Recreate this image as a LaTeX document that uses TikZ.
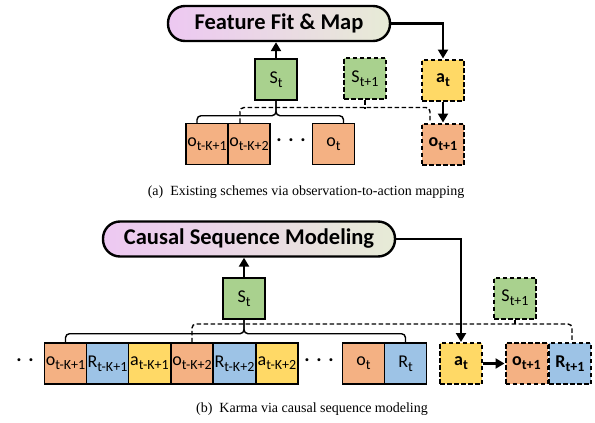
\documentclass[tikz,border=0pt]{standalone}
\usepackage{fontspec}
\setmainfont{Carlito}
\newfontfamily\capfont{Liberation Serif}
\usetikzlibrary{arrows.meta,calc}
\definecolor{cgreen}{HTML}{A9D18E}
\definecolor{corange}{HTML}{F4B183}
\definecolor{cblue}{HTML}{9DC3E6}
\definecolor{cyellow}{HTML}{FFD966}
\definecolor{pillL}{HTML}{EDC8F2}
\definecolor{pillR}{HTML}{E7EBD6}
\newcommand{\lb}[2]{{\fontsize{18}{18}\selectfont #1\raisebox{-4pt}{\fontsize{14}{14}\selectfont #2}}}
\newcommand{\blb}[2]{{\bfseries\fontsize{18}{18}\selectfont #1\raisebox{-4pt}{\fontsize{14}{14}\selectfont #2}}}
\begin{document}
\begin{tikzpicture}[x=1pt,y=-1pt,
  cell/.style={draw=black,line width=1.4pt,minimum width=42pt,minimum height=41pt,inner sep=0pt,anchor=center},
  dcell/.style={cell,line width=2pt,dash pattern=on 4.5pt off 2.5pt},
  pill/.style={draw=black,line width=2.4pt,rounded corners=17pt,minimum height=35pt,inner sep=0pt,left color=pillL,right color=pillR,font=\bfseries\fontsize{22.5}{22.5}\selectfont},
  arr/.style={line width=2.4pt,-{Triangle[length=9pt,width=10pt]}},
  brace/.style={line width=1.4pt,rounded corners=4pt},
  dbrace/.style={brace,dash pattern=on 4.5pt off 2.5pt},
  dots/.style={font=\fontsize{20}{20}\selectfont\bfseries},
  captext/.style={font=\capfont\fontsize{14}{14}\selectfont}]
\useasboundingbox (0,0) rectangle (595,423);
% ---------- panel (a)
\node[pill,minimum width=222pt] (pillA) at (279,23.5) {Feature Fit \& Map};
\node[cell,fill=cgreen] (sA) at (276,79.5) {\lb{S}{t}};
\node[dcell,fill=cgreen] (s1A) at (365,78.5) {\lb{S}{t+1}};
\node[dcell,fill=cyellow] (aA) at (443,80) {\blb{a}{t}};
\node[dcell,fill=corange] (onA) at (443,144) {\blb{o}{t+1}};
\node[cell,fill=corange] (o1A) at (207,144) {\lb{o}{t-K+1}};
\node[cell,fill=corange] (o2A) at (249,144) {\lb{o}{t-K+2}};
\node[cell,fill=corange] (otA) at (333.5,144) {\lb{o}{t}};
\node[dots] (dA) at (291,140) {.\,\,.\,\,.};
\draw[arr] (sA.north) -- (sA.north |- pillA.south);
\draw[arr] (pillA.east) -| (aA.north);
\draw[arr] (aA.south) -- (onA.north);
\draw[dbrace] ($(o2A.north)+(-9,0)$) |- ($(onA.north)+(-13,-15)$) -- ($(onA.north)+(-13,0)$);
\coordinate (jA) at ($(s1A.south)+(0,9)$);
\draw[dbrace] (s1A.south) -- (jA);
\coordinate (kA) at ($(sA.south)+(0,15)$);
\draw[brace] ($(o1A.north)+(-10,0)$) |- (kA) -- (sA.south);
\draw[brace] ($(otA.north)+(10,0)$) |- (kA) -- (sA.south);
\node[captext] (capA) at (306,192) {(a)\enspace Existing schemes via observation-to-action mapping};
% ---------- panel (b)
\node[pill,minimum width=292pt] (pillB) at (249,239) {Causal Sequence Modeling};
\node[cell,fill=cgreen] (sB) at (244,298.5) {\lb{S}{t}};
\node[dcell,fill=cgreen] (s1B) at (515,298) {\lb{S}{t+1}};
\node[cell,fill=corange] (o1B) at (65.5,363.5) {\lb{o}{t-K+1}};
\node[cell,fill=cblue] (r1B) at (107.5,363.5) {\lb{R}{t-K+1}};
\node[cell,fill=cyellow] (a1B) at (149.5,363.5) {\lb{a}{t-K+1}};
\node[cell,fill=corange] (o2B) at (192,363.5) {\lb{o}{t-K+2}};
\node[cell,fill=cblue] (r2B) at (234.5,363.5) {\lb{R}{t-K+2}};
\node[cell,fill=cyellow] (a2B) at (277,363.5) {\lb{a}{t-K+2}};
\node[cell,fill=corange] (otB) at (363.5,363.5) {\lb{o}{t}};
\node[cell,fill=cblue] (rtB) at (405.5,363.5) {\lb{R}{t}};
\node[dcell,fill=cyellow] (atB) at (461,363.5) {\blb{a}{t}};
\node[dcell,fill=corange] (onB) at (526.5,363.5) {\blb{o}{t+1}};
\node[dcell,fill=cblue] (rnB) at (570,363.5) {\blb{R}{t+1}};
\node[dots] (dB1) at (25,360) {.\,\,.};
\node[dots] (dB2) at (319,360) {.\,\,.\,\,.};
\draw[arr] (sB.north) -- (sB.north |- pillB.south);
\draw[arr] (pillB.east) -| (atB.north);
\draw[arr] (atB.east) -- (onB.west);
\draw[dbrace] (o2B.north) |- ($(rnB.north)+(2,-18)$) -- ($(rnB.north)+(2,0)$);
\coordinate (jB) at ($(s1B.south)+(0,6)$);
\draw[dbrace] (s1B.south) -- (jB);
\coordinate (kB) at ($(sB.south)+(0,14)$);
\draw[brace] (o1B.north) |- (kB) -- (sB.south);
\draw[brace] (rtB.north) |- (kB) -- (sB.south);
\node[captext] (capB) at (312,409) {(b)\enspace Karma via causal sequence modeling};
\end{tikzpicture}
\end{document}
